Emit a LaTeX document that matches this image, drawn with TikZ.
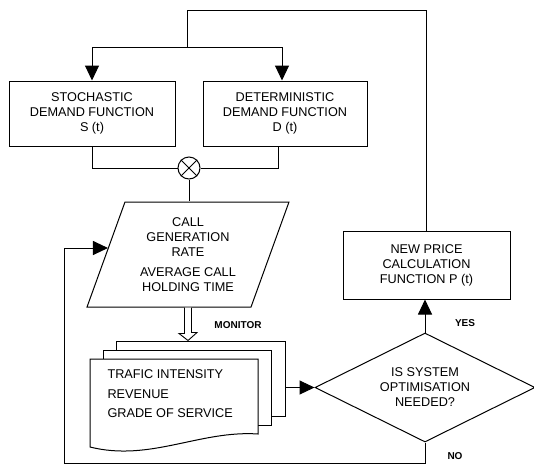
\documentclass[tikz,border=0pt]{standalone}
\usepackage{fontspec}
\setmainfont{Liberation Sans}
\usetikzlibrary{shapes.geometric,arrows.meta,calc}
\begin{document}
\begin{tikzpicture}[x=1pt,y=-1pt, line width=1pt,
  txt/.style={font=\fontsize{12.7}{15}\selectfont},
  box/.style={draw, rectangle, align=center, txt, inner sep=0pt},
  arr/.style={-{Triangle[length=15pt,width=14pt]}},
  lbl/.style={font=\fontsize{10}{12}\selectfont\bfseries}]
\useasboundingbox (0,0) rectangle (534,466);
% top boxes
\node[box, minimum width=166pt, minimum height=65pt] (stoch) at (92,113.5) {STOCHASTIC\\DEMAND FUNCTION\\S (t)};
\node[box, minimum width=164pt, minimum height=65pt] (determ) at (285,113.5) {DETERMINISTIC\\DEMAND FUNCTION\\D (t)};
% mixer
\node[draw, circle, minimum size=22pt, inner sep=0pt] (mix) at (189,168) {};
\draw (mix.north east) -- (mix.south west) (mix.north west) -- (mix.south east);
% input parallelogram
\node[draw, trapezium, trapezium left angle=68.7, trapezium right angle=111.3, trapezium stretches=true,
  minimum width=202pt, minimum height=105pt, align=center, txt, inner sep=0pt] (para) at (188,254.5)
  {CALL\\GENERATION\\RATE\\[5pt]AVERAGE CALL\\HOLDING TIME};
% stacked documents
\node[draw, fill=white, minimum width=169pt, minimum height=75pt, inner sep=0pt] (doc3) at (200.5,378.5) {};
\node[draw, fill=white, minimum width=168pt, minimum height=75pt, inner sep=0pt] (doc2) at (187,387.5) {};
\draw[fill=white] (90,359) -- (258,359) -- (258,434) .. controls (200,430) and (150,462) .. (90,447) -- cycle;
\node[align=left, anchor=west, font=\fontsize{12.7}{19.5}\selectfont, inner sep=0pt] (doc) at (107,394)
  {TRAFIC INTENSITY\\REVENUE\\GRADE OF SERVICE};
% decision
\node[draw, diamond, aspect=2, minimum width=220pt, minimum height=109pt, inner sep=0pt, align=center, txt] (dia) at (425,387.5)
  {IS SYSTEM\\OPTIMISATION\\NEEDED?};
% new price box
\node[box, minimum width=167pt, minimum height=68pt] (newp) at (426.5,265) {NEW PRICE\\CALCULATION\\FUNCTION P (t)};
% labels
\node[lbl] (mon) at (238,325) {MONITOR};
\node[lbl] (yes) at (465,323) {YES};
\node[lbl] (no) at (455,456) {NO};
% connectors
\coordinate (j) at (187,47);
\coordinate (top) at (187,10);
\coordinate (bl) at (64,463);
\coordinate (pin) at ($(para.west)+(2.5,-6.5)$);
\draw (newp.north) |- (top) -- (j);
\draw[arr] (j) -| (stoch.north);
\draw[arr] (j) -| ($(determ.north)+(-3,0)$);
\draw (stoch.south) |- (mix.west);
\draw ($(determ.south)+(-7,0)$) |- (mix.east);
\draw (mix.south) -- (mix.south |- para.north);
\draw[fill=white, line width=0.9pt] ($(para.south)+(-3.5,0)$) -- ++(0,26) -- ++(-5.5,0) -- (para.south |- doc3.north)
  -- ++(9,-8) -- ++(-5.5,0) -- ($(para.south)+(3.5,0)$);
\draw[arr] (dia.west -| doc3.east) -- (dia.west);
\draw[arr] (dia.north) -- (dia.north |- newp.south);
\draw[arr] (dia.south) |- (bl) |- (pin);
\end{tikzpicture}
\end{document}
